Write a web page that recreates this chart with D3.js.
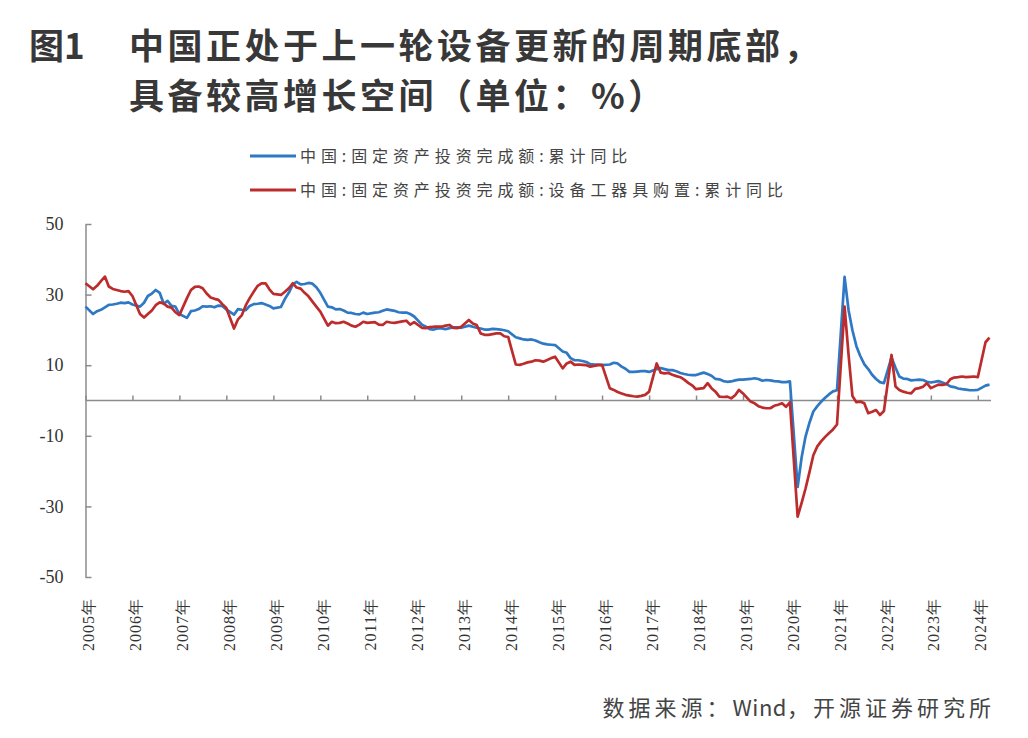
<!DOCTYPE html>
<html><head><meta charset="utf-8">
<script src="https://cdn.jsdelivr.net/npm/d3@7"></script>
<style>
body{margin:0;background:#fff;}
svg{display:block;}
</style>
</head><body>
<svg id="chart" width="1028" height="738"></svg>
<script>
// ---------- data ----------
const years = [2005,2006,2007,2008,2009,2010,2011,2012,2013,2014,2015,2016,2017,2018,2019,2020,2021,2022,2023,2024];
const tickLabels = years.map(y => y + "年");
const monthsInYear = [2,3,4,5,6,7,8,9,10,11,12];   // cumulative data: no January
const lastYearMonths = [2,3];                      // 2024
const yTicks = [50,30,10,-10,-30,-50];
const seriesNames = ["中国:固定资产投资完成额:累计同比", "中国:固定资产投资完成额:设备工器具购置:累计同比"];

// first value = 2004-12, then Feb..Dec each year, then 2024 Feb, Mar
const faiTotal = [
  26.6,
  24.5,25.3,25.7,26.4,27.1,27.2,27.4,27.7,27.6,27.8,27.2,
  26.6,27.7,29.6,30.3,31.3,30.5,27.4,28.2,26.8,26.6,24.5,
  23.4,25.3,25.5,25.9,26.7,26.6,26.7,26.4,26.9,26.8,25.8,
  24.3,25.9,25.7,25.6,26.8,27.3,27.4,27.6,27.2,26.8,26.1,
  26.5,28.8,30.5,32.9,33.6,32.9,33.0,33.3,33.1,32.1,30.5,
  26.6,26.4,25.8,25.9,25.5,24.9,24.8,24.5,24.4,24.9,24.5,
  24.9,25.0,25.4,25.8,25.6,25.4,25.0,24.9,24.9,24.5,23.8,
  21.5,20.9,20.2,20.1,20.4,20.4,20.2,20.5,20.7,20.7,20.6,
  21.2,20.9,20.6,20.4,20.1,20.1,20.3,20.2,20.1,19.9,19.6,
  17.9,17.6,17.3,17.2,17.3,17.0,16.5,16.1,15.9,15.8,15.7,
  13.9,13.5,12.0,11.4,11.4,11.2,10.9,10.3,10.2,10.2,10.0,
  10.2,10.7,10.5,9.6,9.0,8.1,8.1,8.2,8.3,8.3,8.1,
  8.9,9.2,8.9,8.6,8.6,8.3,7.8,7.5,7.3,7.2,7.2,
  7.9,7.5,7.0,6.1,6.0,5.5,5.3,5.4,5.7,5.9,5.9,
  6.1,6.3,6.1,5.6,5.8,5.7,5.5,5.4,5.2,5.2,5.4,
  -24.5,-16.1,-10.3,-6.3,-3.1,-1.6,-0.3,0.8,1.8,2.6,2.9,
  35.0,25.6,19.9,15.4,12.6,10.3,8.9,7.3,6.1,5.2,4.9,
  12.2,9.3,6.8,6.2,6.1,5.7,5.8,5.9,5.8,5.3,5.1,
  5.5,5.1,4.7,4.0,3.8,3.4,3.2,3.1,2.9,2.9,3.0,
  4.2,4.5
];
const faiEquip = [
  33.2,
  31.5,32.5,33.8,35.1,32.3,31.6,31.3,31.0,30.8,31.0,29.6,
  24.5,23.5,24.5,25.5,27.0,27.8,27.5,26.6,26.3,25.0,24.2,
  29.0,31.3,32.2,32.3,31.8,30.3,29.2,28.8,28.5,27.3,26.2,
  20.4,23.0,24.2,27.0,29.0,30.8,32.5,33.2,33.2,31.5,30.2,
  29.9,30.8,31.8,33.2,32.0,31.7,30.5,29.5,28.0,26.6,25.2,
  21.2,22.3,21.9,22.0,22.3,21.8,21.2,20.9,21.5,22.3,22.0,
  22.2,21.5,21.4,22.3,22.1,22.0,22.2,22.4,22.6,21.5,22.2,
  20.6,20.5,20.8,20.9,20.9,20.9,21.2,21.4,20.6,20.5,20.9,
  22.8,21.8,21.4,19.0,18.6,18.6,18.8,19.0,19.0,18.2,18.0,
  10.2,10.1,10.4,10.8,11.0,11.4,11.3,11.0,11.5,12.0,12.4,
  9.1,10.5,11.0,10.1,10.2,10.1,10.0,9.6,9.8,10.0,10.1,
  3.5,3.0,2.4,2.0,1.6,1.4,1.2,1.1,1.3,1.6,2.5,
  10.5,7.9,7.7,7.8,7.3,6.9,6.6,5.9,5.0,4.3,3.2,
  3.5,4.9,3.5,2.5,1.1,1.0,1.1,0.6,1.5,3.0,2.0,
  -0.3,-0.8,-1.6,-2.0,-2.2,-2.2,-1.5,-1.2,-0.8,-1.8,-0.5,
  -32.9,-29.0,-25.0,-20.3,-15.5,-13.0,-11.5,-10.3,-9.2,-8.2,-6.8,
  26.6,12.9,1.3,-0.5,-0.3,-0.8,-3.6,-3.2,-2.7,-4.1,-3.0,
  12.9,4.0,3.0,2.5,2.2,2.0,3.3,3.5,3.9,4.9,3.5,
  4.5,4.4,4.6,6.0,6.5,6.6,6.8,6.6,6.7,6.8,6.6,
  16.5,17.8
];

// ---------- dates (month-end => first day of following month) ----------
const dates = [new Date(2005,0,1)];
years.forEach(y => {
  const ms = y === 2024 ? lastYearMonths : monthsInYear;
  ms.forEach(m => dates.push(new Date(y, m, 1)));
});

const svg = d3.select("#chart");

const x = d3.scaleTime()
  .domain([new Date(2005,0,1), new Date(2024,3,1)])
  .range([85.5, 989.5]);
const y = d3.scaleLinear().domain([-50,50]).range([577,224]);

const axisColor = "#8c8c8c";
const textColor = "#333";

// ---------- title ----------
const title = svg.append("g")
  .attr("font-family", "'Noto Sans CJK SC', 'Noto Sans', sans-serif")
  .attr("font-weight", 700)
  .attr("font-size", 35)
  .attr("fill", "#383838");
title.append("text").attr("x", 29).attr("y", 59).text("图1");
title.append("text").attr("x", 129).attr("y", 59).attr("letter-spacing", 3.5)
  .text("中国正处于上一轮设备更新的周期底部，");
title.append("text").attr("x", 129).attr("y", 109).attr("letter-spacing", 3.5)
  .text("具备较高增长空间（单位：%）");

// ---------- legend ----------
const colors = ["#2f78c4", "#bd2c2c"];
const legend = svg.append("g");
seriesNames.forEach((name, i) => {
  const ly = 156 + i * 34;
  legend.append("line").attr("x1", 250).attr("x2", 296).attr("y1", ly).attr("y2", ly)
    .attr("stroke", colors[i]).attr("stroke-width", 3);
  legend.append("text").attr("x", 300).attr("y", ly).attr("dy", "0.35em")
    .attr("font-family", "'Noto Sans CJK SC', sans-serif")
    .attr("font-size", 16).attr("letter-spacing", 4.9)
    .attr("fill", "#444").text(name);
});

// ---------- y axis ----------
const yAxis = svg.append("g").attr("transform", "translate(85.5,0)")
  .call(d3.axisLeft(y).tickValues(yTicks).tickSize(-6).tickSizeOuter(0).tickPadding(22)
    .tickFormat(d => String(d)));
yAxis.select(".domain").attr("stroke", axisColor).attr("stroke-width", 1.5);
yAxis.selectAll(".tick line").attr("stroke", axisColor).attr("stroke-width", 1.5);
yAxis.selectAll(".tick text")
  .attr("font-family", "'Liberation Serif', 'Times New Roman', serif")
  .attr("font-size", 18).attr("fill", textColor);

// ---------- zero axis with year ticks ----------
const yearDates = years.map(yy => new Date(yy,0,1));
const xAxis = svg.append("g").attr("transform", `translate(0,${y(0)})`)
  .call(d3.axisBottom(x).tickValues(yearDates).tickSize(-5).tickSizeOuter(0).tickFormat(""));
xAxis.select(".domain").attr("stroke", axisColor).attr("stroke-width", 1.5)
  .attr("d", "M85.5,0H991");
xAxis.selectAll(".tick line").attr("stroke", axisColor).attr("stroke-width", 1.5);

// rotated year labels
svg.append("g").selectAll("text").data(yearDates).join("text")
  .attr("transform", (d) => `translate(${x(d) + 3},598) rotate(-90)`)
  .attr("text-anchor", "end")
  .attr("dy", "0.35em")
  .attr("font-family", "'Liberation Serif', 'Times New Roman', serif")
  .attr("font-size", 16)
  .attr("letter-spacing", 1)
  .attr("fill", textColor)
  .text((d, i) => tickLabels[i]);

// ---------- lines ----------
const line = d3.line().x((d) => x(d[0])).y((d) => y(d[1]));
const seriesData = [faiTotal, faiEquip];
seriesData.forEach((vals, i) => {
  svg.append("path")
    .datum(vals.map((v, k) => [dates[k], v]))
    .attr("fill", "none")
    .attr("stroke", colors[i])
    .attr("stroke-width", 2.7)
    .attr("stroke-linejoin", "round")
    .attr("d", line);
});

// ---------- source ----------
const src = svg.append("text").attr("x", 995).attr("y", 716).attr("text-anchor", "end")
  .attr("font-family", "'Noto Sans CJK SC', sans-serif")
  .attr("font-size", 22).attr("fill", "#444");
src.append("tspan").attr("letter-spacing", 4).text("数据来源：");
src.append("tspan").attr("letter-spacing", 0.5).text("Wind");
src.append("tspan").attr("letter-spacing", 4).text("，开源证券研究所");
</script>
</body></html>
